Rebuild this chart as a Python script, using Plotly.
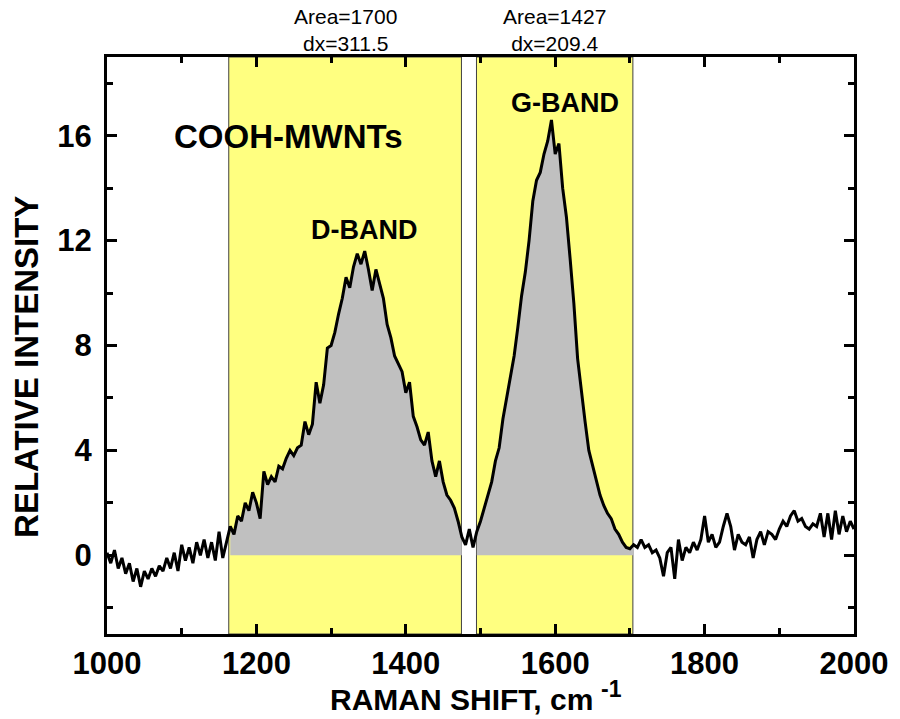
import numpy as np
import plotly.graph_objects as go

# Raman shift axis (cm^-1), 5 cm^-1 sampling
raman_shift = list(range(1000, 2001, 5))

# Relative intensity of the COOH-MWNTs spectrum
intensity = [
    0.1, -0.3, 0.2, -0.5, -0.1, -0.7, -0.3, -1.0, -0.5, -1.2,
    -0.6, -0.9, -0.5, -0.8, -0.4, -0.6, -0.1, -0.5, 0.1, -0.6,
    0.4, -0.2, 0.3, -0.3, 0.5, 0.0, 0.6, -0.1, 0.5, -0.2,
    0.9, -0.1, 0.5, 1.1, 0.8, 1.5, 1.3, 2.0, 1.7, 2.4,
    2.0, 1.4, 3.2, 2.7, 3.0, 2.8, 3.4, 3.3, 3.7, 4.0,
    3.8, 4.1, 4.2, 5.1, 4.6, 5.0, 6.6, 5.8, 6.5, 7.9,
    8.0, 8.5, 9.2, 9.8, 10.6, 10.2, 11.0, 11.5, 11.1, 11.6,
    10.9, 10.1, 10.9, 10.3, 9.8, 8.8, 8.3, 7.6, 7.3, 7.0,
    6.2, 6.6, 5.3, 4.9, 4.4, 4.2, 4.7, 3.6, 3.0, 3.6,
    2.8, 2.3, 2.1, 1.8, 1.3, 0.7, 0.4, 1.0, 0.3, 0.9,
    1.3, 1.8, 2.4, 2.8, 3.6, 4.1, 5.2, 6.0, 6.7, 7.6,
    8.7, 9.9, 10.8, 12.0, 13.5, 14.3, 14.6, 15.3, 15.8, 16.6,
    15.3, 15.7, 14.0, 12.9, 11.3, 9.6, 7.5, 6.2, 5.1, 4.0,
    3.4, 2.9, 2.3, 1.9, 1.6, 1.4, 1.0, 0.8, 0.5, 0.3,
    0.25, 0.4, 0.3, 0.6, 0.3, 0.4, 0.1, 0.2, -0.1, -0.8,
    0.1, 0.3, -0.9, 0.6, -0.2, 0.3, 0.1, 0.5, 0.2, 0.6,
    1.5, 0.5, 0.8, 0.3, 0.5, 1.1, 1.6, 1.1, 0.2, 0.8,
    0.5, 0.4, 0.7, -0.1, 0.6, 0.9, 0.4, 0.9, 0.8, 0.6,
    1.0, 1.3, 1.1, 1.5, 1.7, 1.3, 1.4, 1.1, 1.0, 1.2,
    1.1, 1.6, 0.7, 1.6, 0.6, 1.7, 0.8, 1.5, 0.9, 1.3,
    1.0,
]

# Integration windows: (start, end, area label)
band_windows = [(1163.0, 1474.5, 1700), (1494.6, 1704.0, 1427)]

# Text labels
sample_label = "COOH-MWNTs"
band_labels = [("D-BAND", 1344, 12.4), ("G-BAND", 1613, 17.25)]
x_title = "RAMAN SHIFT, cm"
x_title_exponent = "-1"
y_title = "RELATIVE INTENSITY"

x_ticks = [1000, 1200, 1400, 1600, 1800, 2000]
y_ticks = [0, 4, 8, 12, 16]

FONT = "Liberation Sans, Arial, sans-serif"
YELLOW = "#FFFF80"
GRAY = "#C0C0C0"

xs = np.array(raman_shift, dtype=float)
ys = np.array(intensity, dtype=float)

fig = go.Figure()

shapes = []
annotations = []
for x0, x1, area in band_windows:
    shapes.append(dict(
        type="rect", xref="x", yref="paper", x0=x0, x1=x1, y0=0, y1=1,
        fillcolor=YELLOW, line=dict(color="#404040", width=1), layer="below",
    ))
    annotations.append(dict(
        x=(x0 + x1) / 2, y=1, xref="x", yref="paper",
        xanchor="center", yanchor="bottom", yshift=0,
        text=f"Area={area}<br>dx={x1 - x0:.1f}", showarrow=False,
        font=dict(family=FONT, size=21, color="black"),
    ))
    # integrated area under the band
    mask = (xs >= x0 - 0.5) & (xs <= x1 + 1.0)
    fig.add_trace(go.Scatter(
        x=xs[mask], y=ys[mask], mode="lines", fill="tozeroy",
        fillcolor=GRAY, line=dict(width=0, color=GRAY),
        hoverinfo="skip", showlegend=False,
    ))

fig.add_trace(go.Scatter(
    x=xs, y=ys, mode="lines",
    line=dict(color="black", width=3),
    showlegend=False,
))

annotations.append(dict(
    x=1243, y=15.95, xref="x", yref="y", text=sample_label, showarrow=False,
    font=dict(family=FONT, size=33, color="black", weight="bold"),
))
for label, lx, ly in band_labels:
    annotations.append(dict(
        x=lx, y=ly, xref="x", yref="y", text=label, showarrow=False,
        font=dict(family=FONT, size=27, color="black", weight="bold"),
    ))

# axis titles (the exponent of the x unit is set as a raised label)
annotations.append(dict(
    x=0.6533, y=-0.1464, xref="paper", yref="paper", text=x_title,
    xanchor="right", yanchor="bottom", showarrow=False,
    font=dict(family=FONT, size=30, color="black", weight="bold"),
))
annotations.append(dict(
    x=0.6587, y=-0.0953, xref="paper", yref="paper", text=x_title_exponent,
    xanchor="left", yanchor="middle", showarrow=False,
    font=dict(family=FONT, size=23, color="black", weight="bold"),
))
annotations.append(dict(
    x=-0.107, y=0.463, xref="paper", yref="paper", text=y_title,
    textangle=-90, xanchor="center", yanchor="middle", showarrow=False,
    font=dict(family=FONT, size=33, color="black", weight="bold"),
))

axis_common = dict(
    showline=True, linewidth=3, linecolor="black", mirror="ticks",
    ticks="inside", ticklen=10, tickwidth=2.5, tickcolor="black",
    showgrid=False, zeroline=False,
    tickfont=dict(family=FONT, size=31, color="black", weight="bold"),
)

fig.update_layout(
    width=900, height=719,
    margin=dict(l=107, r=43, t=57, b=85),
    paper_bgcolor="white", plot_bgcolor="white",
    shapes=shapes, annotations=annotations,
    xaxis=dict(
        range=[1000, 2000], tickvals=x_ticks,
        minor=dict(dtick=100, ticks="inside", ticklen=6, tickwidth=2.5, tickcolor="black"),
        ticklabelstandoff=0,
        **axis_common,
    ),
    yaxis=dict(
        range=[-3, 19], tickvals=y_ticks,
        minor=dict(dtick=2, ticks="inside", ticklen=6, tickwidth=2.5, tickcolor="black"),
        ticklabelstandoff=6,
        **axis_common,
    ),
)

fig.write_html("out.html")
